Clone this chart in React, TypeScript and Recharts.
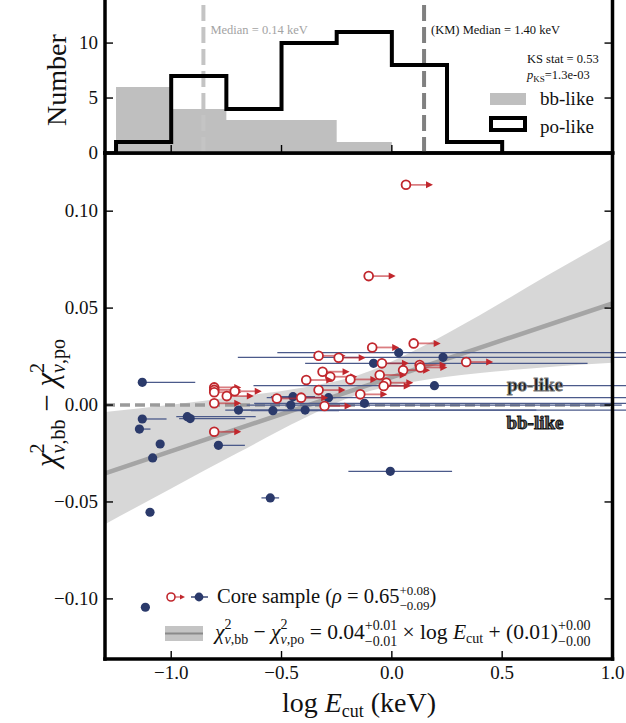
import React from "react";
import { Area, ComposedChart, ErrorBar, Line, ReferenceLine, Scatter, XAxis, YAxis } from "recharts";

// histogram (top panel)
const binEdges = [-1.25, -1.0, -0.75, -0.5, -0.25, 0.0, 0.25, 0.5];
const poCounts = [1, 7, 4, 10, 11, 8, 1];
const bbCounts = [6, 4, 3, 3, 1];
const bbMedian = -0.854; // log 0.14 keV
const kmMedian = 0.146; // log 1.40 keV

const xTicks = [-1.0, -0.5, 0.0, 0.5, 1.0];
const histTicks = [0, 5, 10];
const mainTicks = [-0.1, -0.05, 0.0, 0.05, 0.1];

// lower limits on E_cut (open red circles)
const limX = [0.064, -0.105, 0.099, -0.089, -0.332, -0.241, -0.045, 0.126, 0.337, 0.051, -0.314, -0.279, -0.055, -0.188, -0.388, -0.025, -0.037, -0.332, -0.143, 0.129, -0.805, -0.805, -0.805, -0.712, -0.748, -0.805, -0.521, -0.411, -0.305, -0.805];
const limY = [0.1136, 0.0665, 0.0318, 0.0297, 0.0254, 0.0244, 0.0215, 0.0206, 0.0222, 0.018, 0.0172, 0.0146, 0.0155, 0.0132, 0.0129, 0.0115, 0.0098, 0.0077, 0.0055, 0.0194, 0.0091, 0.0078, 0.0066, 0.0071, 0.0046, 0.0009, 0.0034, 0.0038, -0.0005, -0.0138];

// measured E_cut (navy dots)
const detX = [-1.131, 0.031, 0.232, -0.083, 0.193, -0.287, -0.448, -0.124, -0.458, -0.695, -0.539, -0.393, -1.131, -1.144, -0.927, -0.914, -1.05, -0.786, -1.084, -0.007, -0.551, -1.096, -1.117];
const detY = [0.0117, 0.027, 0.0246, 0.0215, 0.01, 0.0038, 0.0043, 0.0009, 0.0, -0.0026, -0.0029, -0.0026, -0.0072, -0.0124, -0.006, -0.007, -0.0201, -0.0208, -0.0273, -0.0342, -0.0479, -0.0553, -0.1043];
const detErrLo = [0.0, 0.55, 0.93, 0.31, 0.82, 0.28, 0.1, 0.5, 0.2, 0.06, 0.1, 0.3, 0.0, 0.0, 0.05, 0.05, 0.0, 0.02, 0.0, 0.19, 0.04, 0.0, 0.0];
const detErrHi = [0.24, 1.2, 1.0, 0.97, 1.0, 1.5, 0.1, 1.3, 1.5, 1.35, 0.3, 1.5, 0.11, 0.05, 0.31, 0.25, 0.0, 0.12, 0.0, 0.28, 0.04, 0.0, 0.0];

// linear fit and its confidence band
const fitX = [-1.3, 1.0];
const fitY = [-0.0352, 0.0524];
const bandX = [-1.3, -1.0, -0.7, -0.4, -0.15, 0.1, 0.4, 0.7, 1.0];
const bandLo = [-0.0615, -0.043, -0.0248, -0.0069, 0.0055, 0.012, 0.0165, 0.0195, 0.0218];
const bandHi = [-0.0036, 0.0002, 0.0044, 0.0091, 0.0155, 0.028, 0.0465, 0.0665, 0.0859];

const RED = "#c1272d";
const NAVY = "#2b3a6b";
const FONT = "Liberation Serif";

const poStep = [
  { x: binEdges[0], y: 0 },
  ...poCounts.map((c, i) => ({ x: binEdges[i], y: c })),
  { x: binEdges[poCounts.length], y: 0 },
];
const bbStep = [...bbCounts.map((c, i) => ({ x: binEdges[i], y: c })), { x: binEdges[bbCounts.length], y: 0 }];
const limits = limX.map((x, i) => ({ x, y: limY[i] }));
const dets = detX.map((x, i) => ({ x, y: detY[i], xerr: [detErrLo[i], detErrHi[i]] }));
const fit = fitX.map((x, i) => ({ x, y: fitY[i] }));
const band = bandX.map((x, i) => ({ x, range: [bandLo[i], bandHi[i]] }));

const fmt = (v: number, d: number) => (v < 0 ? "\u2212" : "") + Math.abs(v).toFixed(d);
const frame = { stroke: "#000", strokeWidth: 3.5, strokeLinecap: "square" as const };

const xTick = (side: "top" | "bottom", labels: boolean) => (p: any) => {
  const dir = side === "bottom" ? -1 : 1;
  return (
    <g>
      <line x1={p.x} x2={p.x} y1={p.y} y2={p.y + dir * 8} stroke="#000" strokeWidth={1.4} />
      {labels && (
        <text x={p.x} y={p.y + 20} textAnchor="middle" fontFamily={FONT} fontSize={19} fill="#111">
          {fmt(p.payload.value, 1)}
        </text>
      )}
    </g>
  );
};

const yTick = (side: "left" | "right", digits: number | null) => (p: any) => {
  const dir = side === "left" ? 1 : -1;
  return (
    <g>
      <line x1={p.x} x2={p.x + dir * 8} y1={p.y} y2={p.y} stroke="#000" strokeWidth={1.4} />
      {digits !== null && (
        <text x={p.x - 7} y={p.y + 6} textAnchor="end" fontFamily={FONT} fontSize={19} fill="#111">
          {digits === 0 ? String(p.payload.value) : fmt(p.payload.value, digits)}
        </text>
      )}
    </g>
  );
};

const LimitDot = (p: any) => {
  const { cx, cy } = p;
  return (
    <g>
      <line x1={cx} y1={cy} x2={cx + 21} y2={cy} stroke={RED} strokeOpacity={0.6} strokeWidth={1.8} />
      <path d={`M${cx + 27},${cy} L${cx + 20},${cy - 3.5} L${cx + 20},${cy + 3.5} Z`} fill={RED} />
      <circle cx={cx} cy={cy} r={4.4} fill="#fff" stroke={RED} strokeWidth={1.8} />
    </g>
  );
};

const DetDot = (p: any) => <circle cx={p.cx} cy={p.cy} r={4.6} fill={NAVY} />;

const medianLabel = (text: string, color: string) => (p: any) => (
  <text x={p.viewBox.x + 7} y={p.viewBox.y + 36} fontFamily={FONT} fontSize={12.5} fill={color}>
    {text}
  </text>
);

function HistPanel() {
  return (
    <ComposedChart width={626} height={170} margin={{ top: 0, right: 12.5, bottom: 13, left: 0 }}>
      <XAxis dataKey="x" type="number" domain={[-1.3, 1.0]} allowDataOverflow ticks={xTicks} interval={0} height={1}
        tickSize={0} tickMargin={0} tickLine={false} axisLine={frame} tick={xTick("bottom", false)} />
      <XAxis xAxisId="top" orientation="top" type="number" domain={[-1.3, 1.0]} allowDataOverflow ticks={xTicks}
        interval={0} height={1} tickSize={0} tickMargin={0} tickLine={false} axisLine={frame} tick={xTick("top", false)} />
      <YAxis type="number" domain={[0, 14.1]} allowDataOverflow ticks={histTicks} interval={0} width={105}
        tickSize={0} tickMargin={0} tickLine={false} axisLine={frame} tick={yTick("left", 0)} />
      <YAxis yAxisId="right" orientation="right" type="number" domain={[0, 14.1]} allowDataOverflow ticks={histTicks}
        interval={0} width={1} tickSize={0} tickMargin={0} tickLine={false} axisLine={frame} tick={yTick("right", null)} />
      <Area data={bbStep} dataKey="y" type="stepAfter" fill="#bfbfbf" fillOpacity={1} stroke="none" isAnimationActive={false} />
      <ReferenceLine x={bbMedian} stroke="#c4c4c4" strokeWidth={4} strokeDasharray="16 6"
        label={medianLabel("Median = 0.14 keV", "#a3a3a3")} />
      <ReferenceLine x={kmMedian} stroke="#808080" strokeWidth={4} strokeDasharray="16 6"
        label={medianLabel("(KM) Median = 1.40 keV", "#111")} />
      <Line data={poStep} dataKey="y" type="stepAfter" stroke="#000" strokeWidth={4} dot={false} isAnimationActive={false} />
    </ComposedChart>
  );
}

function MainPanel() {
  return (
    <ComposedChart width={626} height={573} margin={{ top: 2, right: 12.5, bottom: 63, left: 0 }}>
      <XAxis dataKey="x" type="number" domain={[-1.3, 1.0]} allowDataOverflow ticks={xTicks} interval={0} height={1}
        tickSize={0} tickMargin={0} tickLine={false} axisLine={frame} tick={xTick("bottom", true)} />
      <XAxis xAxisId="top" orientation="top" type="number" domain={[-1.3, 1.0]} allowDataOverflow ticks={xTicks}
        interval={0} height={1} tickSize={0} tickMargin={0} tickLine={false} axisLine={frame} tick={xTick("top", false)} />
      <YAxis type="number" domain={[-0.131, 0.13]} allowDataOverflow ticks={mainTicks} interval={0} width={105}
        tickSize={0} tickMargin={0} tickLine={false} axisLine={frame} tick={yTick("left", 2)} />
      <YAxis yAxisId="right" orientation="right" type="number" domain={[-0.131, 0.13]} allowDataOverflow ticks={mainTicks}
        interval={0} width={1} tickSize={0} tickMargin={0} tickLine={false} axisLine={frame} tick={yTick("right", null)} />
      <Area data={band} dataKey="range" type="monotone" fill="#d3d3d3" fillOpacity={0.9} stroke="none" isAnimationActive={false} />
      <Line data={fit} dataKey="y" stroke="#a5a5a5" strokeWidth={4.5} dot={false} isAnimationActive={false} />
      <ReferenceLine y={0} stroke="#9a9a9a" strokeWidth={3.5} strokeDasharray="10 5" />
      <Scatter data={dets} dataKey="y" shape={DetDot} isAnimationActive={false}>
        <ErrorBar dataKey="xerr" direction="x" width={0} stroke="#4b5a8a" strokeWidth={1.3} />
      </Scatter>
      <Scatter data={limits} dataKey="y" shape={LimitDot} isAnimationActive={false} />
    </ComposedChart>
  );
}

function Overlay() {
  return (
    <svg width={626} height={723} style={{ position: "absolute", left: 0, top: 0, pointerEvents: "none" }} fontFamily={FONT}>
      {/* axis titles */}
      <text transform="translate(66,80) rotate(-90)" textAnchor="middle" fontSize={28} fill="#111">Number</text>
      <text transform="translate(57,403) rotate(-90)" textAnchor="middle" fontSize={31} fill="#111">
        <tspan fontStyle="italic">χ</tspan>
        <tspan fontSize={20} dy={-13}>2</tspan>
        <tspan fontSize={20} dx={-10} dy={21} fontStyle="italic">ν</tspan>
        <tspan fontSize={20}>,bb</tspan>
        <tspan dy={-8}>{" \u2212 "}</tspan>
        <tspan fontStyle="italic">χ</tspan>
        <tspan fontSize={20} dy={-13}>2</tspan>
        <tspan fontSize={20} dx={-10} dy={21} fontStyle="italic">ν</tspan>
        <tspan fontSize={20}>,po</tspan>
      </text>
      <text x={359} y={712} textAnchor="middle" fontSize={28} fill="#111">
        <tspan>log </tspan>
        <tspan fontStyle="italic">E</tspan>
        <tspan fontSize={18} dy={5}>cut</tspan>
        <tspan dy={-5}> (keV)</tspan>
      </text>

      {/* top panel annotations */}
      <text x={527} y={63} fontSize={12.5} fill="#111">KS stat = 0.53</text>
      <text x={527} y={79} fontSize={12.5} fill="#111">
        <tspan fontStyle="italic">p</tspan>
        <tspan fontSize={9} dy={3}>KS</tspan>
        <tspan dy={-3}>=1.3e-03</tspan>
      </text>
      <rect x={490} y={93} width={36} height={12} fill="#bfbfbf" />
      <text x={540} y={105} fontSize={19} fill="#111">bb-like</text>
      <rect x={491} y={118} width={34} height={12} fill="#fff" stroke="#000" strokeWidth={4} />
      <text x={540} y={133} fontSize={19} fill="#111">po-like</text>

      {/* region labels */}
      <text x={535} y={391} textAnchor="middle" fontSize={19} fontWeight="bold" fill="#1a1a1a" stroke="#777" strokeWidth={0.8}>po-like</text>
      <text x={535} y={429} textAnchor="middle" fontSize={19} fontWeight="bold" fill="#666" stroke="#111" strokeWidth={1}>bb-like</text>

      {/* legend */}
      <line x1={171} x2={181} y1={597} y2={597} stroke={RED} strokeOpacity={0.6} strokeWidth={1.6} />
      <path d="M185,597 L180,594.5 L180,599.5 Z" fill={RED} />
      <circle cx={171} cy={597} r={4} fill="#fff" stroke={RED} strokeWidth={1.6} />
      <line x1={191} x2={208} y1={597} y2={597} stroke={NAVY} strokeWidth={1.4} />
      <circle cx={199} cy={597} r={4.4} fill={NAVY} />
      <text x={217} y={603} fontSize={20.5} fill="#111">
        <tspan>Core sample (</tspan>
        <tspan fontStyle="italic">ρ</tspan>
        <tspan> = 0.65</tspan>
        <tspan fontSize={13} dy={-8}>+0.08</tspan>
        <tspan fontSize={13} dx={-30.1} dy={15}>{"\u22120.09"}</tspan>
        <tspan dy={-7}>)</tspan>
      </text>
      <rect x={165} y={626} width={38} height={15} fill="#c4c4c4" />
      <line x1={165} x2={203} y1={633.5} y2={633.5} stroke="#8a8a8a" strokeWidth={2} />
      <text x={215} y={639} fontSize={21.5} fill="#111">
        <tspan fontStyle="italic">χ</tspan>
        <tspan fontSize={14} dy={-10}>2</tspan>
        <tspan fontSize={14} dx={-7} dy={15} fontStyle="italic">ν</tspan>
        <tspan fontSize={14}>,bb</tspan>
        <tspan dy={-5}>{" \u2212 "}</tspan>
        <tspan fontStyle="italic">χ</tspan>
        <tspan fontSize={14} dy={-10}>2</tspan>
        <tspan fontSize={14} dx={-7} dy={15} fontStyle="italic">ν</tspan>
        <tspan fontSize={14}>,po</tspan>
        <tspan dy={-5}> = 0.04</tspan>
        <tspan fontSize={14} dy={-9}>+0.01</tspan>
        <tspan fontSize={14} dx={-32.4} dy={16}>{"\u22120.01"}</tspan>
        <tspan dy={-7}> × log </tspan>
        <tspan fontStyle="italic">E</tspan>
        <tspan fontSize={14} dy={4}>cut</tspan>
        <tspan dy={-4}> + (0.01)</tspan>
        <tspan fontSize={14} dy={-9}>+0.00</tspan>
        <tspan fontSize={14} dx={-32.4} dy={16}>{"\u22120.00"}</tspan>
      </text>
    </svg>
  );
}

export default function App() {
  return (
    <div style={{ position: "absolute", left: 0, top: 0, width: 626, height: 723, background: "#fff", overflow: "hidden" }}>
      <div style={{ position: "absolute", left: 0, top: 150 }}>
        <MainPanel />
      </div>
      <div style={{ position: "absolute", left: 0, top: -3 }}>
        <HistPanel />
      </div>
      <Overlay />
    </div>
  );
}
